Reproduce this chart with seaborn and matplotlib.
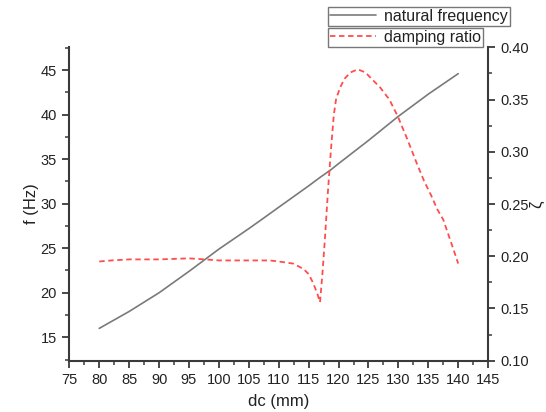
import matplotlib
matplotlib.use("Agg")
import matplotlib.pyplot as plt
from matplotlib.lines import Line2D
from matplotlib.ticker import MultipleLocator
import seaborn as sns
import pandas as pd

# natural frequency data
dc_f = [80, 85, 90, 95, 97.7, 100, 105, 107.1, 110, 115, 116.9, 118.7, 120, 125, 129.9, 135, 140]
freq = [16.0, 17.9, 20.0, 22.4, 23.75, 24.9, 27.2, 28.2, 29.6, 32.0, 32.95, 33.8, 34.5, 37.1, 39.76, 42.3, 44.6]

# damping ratio data
dc_z = [80, 82, 85, 90, 95, 97.7, 100, 105, 108.5, 110, 112.4, 114.1, 115, 115.7, 116.4, 116.9,
        117.3, 117.7, 118.2, 118.7, 119.2, 119.6, 120.3, 121, 122, 123.2, 124.5, 125.5, 126.9,
        128.5, 129.9, 131.5, 133, 134.3, 135.5, 136.5, 137.5, 139, 140]
zeta = [0.195, 0.196, 0.197, 0.197, 0.198, 0.197, 0.196, 0.196, 0.196, 0.195, 0.193, 0.188, 0.183,
        0.175, 0.165, 0.156, 0.183, 0.215, 0.260, 0.300, 0.335, 0.351, 0.362, 0.370, 0.376, 0.379,
        0.376, 0.370, 0.362, 0.350, 0.334, 0.312, 0.290, 0.272, 0.258, 0.245, 0.235, 0.210, 0.193]

legend_labels = ["natural frequency", "damping ratio"]

sns.set_style("ticks")
plt.rcParams["font.family"] = ["Liberation Sans", "DejaVu Sans"]

GRAY = "#7a7a7a"
RED = "#ff4d4d"
SPINE = "#3a3a3a"

fig = plt.figure(figsize=(5.46, 4.12), dpi=100)
ax = fig.add_axes([0.127, 0.1245, 0.767, 0.7605])
ax2 = ax.twinx()

df_f = pd.DataFrame({"dc": dc_f, "f": freq})
df_z = pd.DataFrame({"dc": dc_z, "z": zeta})

sns.lineplot(data=df_f, x="dc", y="f", ax=ax, color=GRAY, lw=1.2, sort=False)
sns.lineplot(data=df_z, x="dc", y="z", ax=ax2, color=RED, lw=1.3, sort=False,
             dashes=False, linestyle=(0, (3, 2)))

ax.set_xlim(75, 145)
ax.set_ylim(12.37, 47.55)
ax2.set_ylim(0.10, 0.40)

ax.xaxis.set_major_locator(MultipleLocator(5))
ax.xaxis.set_minor_locator(MultipleLocator(2.5))
ax.yaxis.set_major_locator(MultipleLocator(5))
ax.yaxis.set_minor_locator(MultipleLocator(2.5))
ax2.yaxis.set_major_locator(MultipleLocator(0.05))
ax2.yaxis.set_minor_locator(MultipleLocator(0.025))
ax2.yaxis.set_major_formatter(matplotlib.ticker.FormatStrFormatter("%.2f"))

for a in (ax, ax2):
    a.spines["top"].set_visible(False)
    for s in ("left", "right", "bottom"):
        a.spines[s].set_color(SPINE)
        a.spines[s].set_linewidth(1.5)
    a.tick_params(which="major", length=5, width=1.3, color=SPINE, labelsize=10.5,
                  labelcolor="#222222", direction="out", pad=4)
    a.tick_params(which="minor", length=3, width=1.1, color=SPINE, direction="out")
ax.spines["right"].set_visible(False)
ax2.spines["left"].set_visible(False)
ax2.spines["bottom"].set_visible(False)

ax.set_xlabel("dc (mm)", fontsize=12, color="#222222", labelpad=5)
ax.set_ylabel("f (Hz)", fontsize=12, color="#222222")
ax2.set_ylabel("ζ", fontsize=12, color="#222222")
ax.yaxis.set_label_coords(-0.072, 0.5)
ax2.yaxis.set_label_coords(1.097, 0.5)

h1 = Line2D([], [], color=GRAY, lw=1.2)
h2 = Line2D([], [], color=RED, lw=1.3, linestyle=(0, (3, 2)))
kw = dict(frameon=True, fancybox=False, fontsize=11.5, handlelength=2.9, handletextpad=0.45,
          borderpad=0.15, borderaxespad=0, bbox_transform=fig.transFigure, loc="upper left")
leg1 = fig.legend(handles=[h1], labels=[legend_labels[0]], bbox_to_anchor=(327.7 / 546, 1 - 6.5 / 412), **kw)
leg2 = fig.legend(handles=[h2], labels=[legend_labels[1]], bbox_to_anchor=(327.7 / 546, 1 - 27.5 / 412), **kw)
for lg in (leg1, leg2):
    lg.get_frame().set_edgecolor("#555555")
    lg.get_frame().set_linewidth(1.0)
    for t in lg.get_texts():
        t.set_color("#222222")

fig.savefig("out.png", dpi=100)
